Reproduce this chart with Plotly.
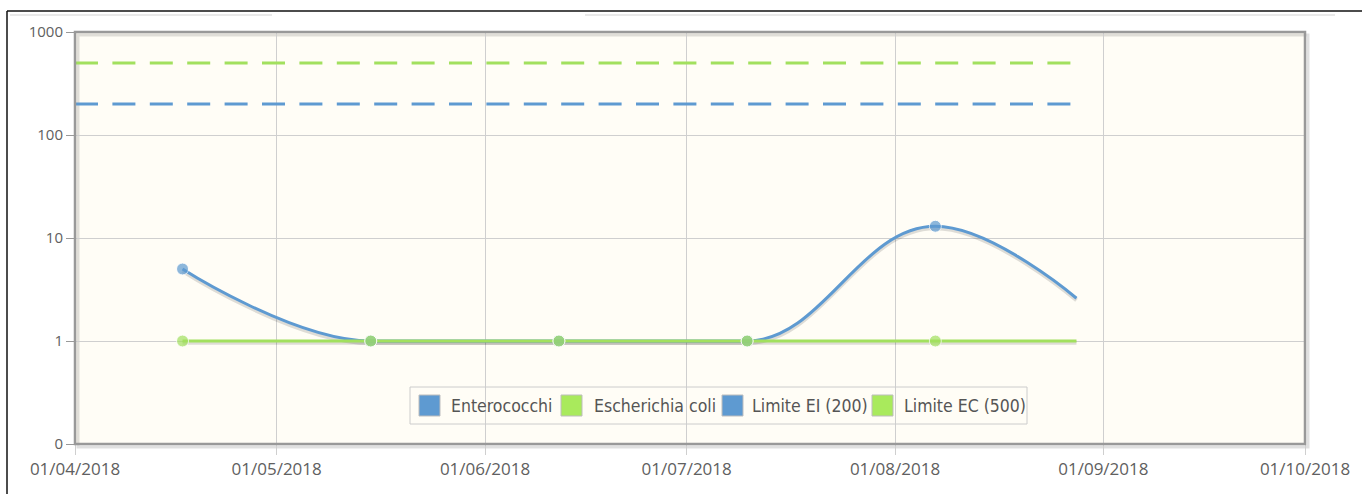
import calendar
import datetime as dt
import math

import plotly.graph_objects as go

# Sampling dates and measured values (log-scale chart)
dates = ["2018-04-17", "2018-05-15", "2018-06-12", "2018-07-10", "2018-08-07", "2018-08-28"]
enterococchi = [5, 1, 1, 1, 13, 2.6]
escherichia = [1, 1, 1, 1, 1, 1]
marker_shown = [True, True, True, True, True, False]

# Regulatory limits
limit_dates = ["2018-04-01", "2018-08-28"]
limite_ei = 200
limite_ec = 500

y_ticks = [0.1, 1, 10, 100, 1000]
y_tick_labels = ["0", "1", "10", "100", "1000"]

legend_names = ["Enterococchi", "Escherichia coli", "Limite EI (200)", "Limite EC (500)"]

BLUE = "#5e9ad1"
GREEN = "#a2e05e"
SWATCH_GREEN = "#a9ea5c"
legend_colors = [BLUE, SWATCH_GREEN, BLUE, SWATCH_GREEN]

W, H = 1362, 494
ML, MR, MT, MB = 75, 57, 32, 50
PW, PH = W - ML - MR, H - MT - MB


def px(x):
    return (x - ML) / PW


def py(y):
    return (H - MB - y) / PH


def to_sec(s):
    return calendar.timegm(dt.datetime.fromisoformat(s).timetuple())


def sec_to_str(t):
    return dt.datetime.fromtimestamp(t, tz=dt.timezone.utc).strftime("%Y-%m-%d_%H:%M:%S")


def spline_path(xs, ys, y_scale=1.0):
    """Cubic spline path (smoothing 1.5, no false extremes) in date/log space."""
    X = [to_sec(d) for d in xs]
    Y = [math.log10(v) for v in ys]
    sm, den = 1.5, 2.5
    n = len(X)
    right = [None] * n
    parts = []
    for i in range(1, n):
        lcx, lcy = X[i], Y[i]
        if i < n - 1:
            lx, ly, nx, ny = X[i - 1], Y[i - 1], X[i + 1], Y[i + 1]
            p_x, p_y = X[i], Y[i]
            lcx = (sm * p_x + lx) / den
            lcy = (sm * p_y + ly) / den
            rcx = (sm * p_x + nx) / den
            rcy = (sm * p_y + ny) / den
            corr = (rcy - lcy) * (rcx - p_x) / (rcx - lcx) + p_y - rcy
            lcy += corr
            rcy += corr
            if lcy > ly and lcy > p_y:
                lcy = max(ly, p_y); rcy = 2 * p_y - lcy
            elif lcy < ly and lcy < p_y:
                lcy = min(ly, p_y); rcy = 2 * p_y - lcy
            if rcy > ny and rcy > p_y:
                rcy = max(ny, p_y); lcy = 2 * p_y - rcy
            elif rcy < ny and rcy < p_y:
                rcy = min(ny, p_y); lcy = 2 * p_y - rcy
            right[i] = (rcx, rcy)
        c1 = right[i - 1] if right[i - 1] else (X[i - 1], Y[i - 1])
        parts.append((c1, (lcx, lcy), (X[i], Y[i])))

    def pt(p):
        return f"{sec_to_str(p[0])},{(10 ** p[1]) * y_scale:.6f}"

    path = f"M {pt((X[0], Y[0]))}"
    for c1, c2, end in parts:
        path += f" C {pt(c1)} {pt(c2)} {pt(end)}"
    return path


sizes = [12 if s else 0 for s in marker_shown]

fig = go.Figure()

# Limit lines
for val, col in [(limite_ec, GREEN), (limite_ei, BLUE)]:
    fig.add_trace(go.Scatter(x=limit_dates, y=[val] * 2, mode="lines",
                             line=dict(color=col, width=3, dash="23px,14.4px"),
                             hoverinfo="skip"))

# Escherichia coli line with soft shadow (drawn over the Enterococchi curve)
fig.add_trace(go.Scatter(x=dates, y=[v * 0.96 for v in escherichia], mode="lines",
                         line=dict(color="rgba(0,0,0,0.13)", width=4), hoverinfo="skip"))
fig.add_trace(go.Scatter(x=dates, y=escherichia, mode="lines", name="Escherichia coli",
                         line=dict(color=GREEN, width=3)))

# Markers
fig.add_trace(go.Scatter(x=dates, y=enterococchi, mode="markers", name="Enterococchi",
                         marker=dict(color=BLUE, size=sizes)))
fig.add_trace(go.Scatter(x=dates, y=escherichia, mode="markers", name="Escherichia coli",
                         marker=dict(color=GREEN, size=sizes)))

shapes = [
    # Enterococchi smoothed curve and its shadow
    dict(type="path", xref="x", yref="y", path=spline_path(dates, enterococchi, 0.955),
         line=dict(color="rgba(0,0,0,0.13)", width=4), fillcolor="rgba(0,0,0,0)", layer="between"),
    dict(type="path", xref="x", yref="y", path=spline_path(dates, enterococchi),
         line=dict(color=BLUE, width=3), fillcolor="rgba(0,0,0,0)", layer="between"),
    # plot frame shadow and border
    dict(type="rect", xref="paper", yref="paper", x0=px(ML + 3), x1=px(W - MR + 3),
         y0=py(H - MB + 3), y1=py(MT + 3), line=dict(color="rgba(0,0,0,0.12)", width=3), layer="below"),
    dict(type="rect", xref="paper", yref="paper", x0=0, x1=1, y0=0, y1=1,
         line=dict(color="#999999", width=2.5)),
    # outer frame lines
    dict(type="line", xref="paper", yref="paper", x0=px(7), x1=px(W + 5), y0=py(11), y1=py(11),
         line=dict(color="#111111", width=1.5)),
    dict(type="line", xref="paper", yref="paper", x0=px(7), x1=px(7), y0=py(11), y1=py(H + 5),
         line=dict(color="#111111", width=1.5)),
    dict(type="line", xref="paper", yref="paper", x0=px(10), x1=px(272), y0=py(15), y1=py(15),
         line=dict(color="#e2e2e2", width=1.5)),
    dict(type="line", xref="paper", yref="paper", x0=px(585), x1=px(1335), y0=py(15), y1=py(15),
         line=dict(color="#e2e2e2", width=1.5)),
    # legend box
    dict(type="rect", xref="paper", yref="paper", x0=px(410), x1=px(1027), y0=py(424), y1=py(387),
         line=dict(color="#cccccc", width=1), fillcolor="rgba(0,0,0,0)"),
]

annotations = []
swatch_x = [419, 561, 722, 872]
text_x = [449, 592, 750, 902]
for name, col, sx, tx in zip(legend_names, legend_colors, swatch_x, text_x):
    shapes.append(dict(type="rect", xref="paper", yref="paper", x0=px(sx), x1=px(sx + 21),
                       y0=py(416), y1=py(395), fillcolor=col,
                       line=dict(color="#bdbdbd", width=1)))
    annotations.append(dict(xref="paper", yref="paper", x=px(tx), y=py(405.5), xanchor="left",
                            yanchor="middle", text=name, showarrow=False,
                            font=dict(family="DejaVu Sans Condensed, DejaVu Sans", size=17.5,
                                      color="#555555")))

fig.update_layout(
    width=W, height=H,
    margin=dict(l=ML, r=MR, t=MT, b=MB),
    paper_bgcolor="white",
    plot_bgcolor="#fffdf6",
    showlegend=False,
    font=dict(family="Open Sans, DejaVu Sans, sans-serif", size=15, color="#606060"),
    shapes=shapes,
    annotations=annotations,
    xaxis=dict(type="date", range=["2018-04-01", "2018-10-01"], dtick="M1",
               tick0="2018-04-01", tickformat="%d/%m/%Y",
               tickfont=dict(size=17, color="#606060"),
               showgrid=True, gridcolor="#cfcfcf", gridwidth=1,
               ticks="outside", ticklen=10, tickcolor="#cfcfcf",
               zeroline=False, showline=False),
    yaxis=dict(type="log", range=[-1, 3], tickvals=y_ticks, ticktext=y_tick_labels,
               tickfont=dict(size=15, color="#606060"),
               showgrid=True, gridcolor="#cfcfcf", gridwidth=1,
               ticks="outside", ticklen=8, tickcolor="#999999",
               zeroline=False, showline=False),
)

fig.write_html("out.html")
